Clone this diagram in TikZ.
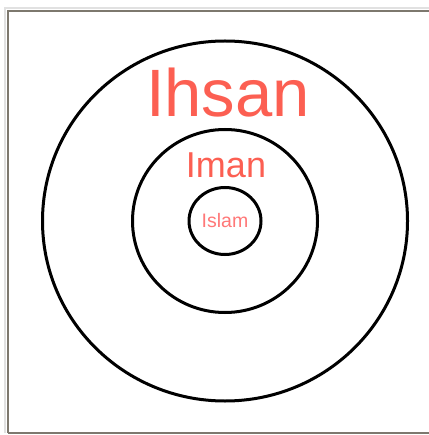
\documentclass[tikz,border=0pt]{standalone}
\usepackage{fontspec}
\setmainfont{Liberation Sans}
\definecolor{framegray}{RGB}{125,120,110}
\definecolor{shadowgray}{RGB}{225,225,225}
\definecolor{salmon}{RGB}{252,95,82}
\definecolor{pinkish}{RGB}{255,120,120}
\begin{document}
\begin{tikzpicture}[x=1pt,y=-1pt,
  ring/.style={draw=black,line width=3pt},
  lbl/.style={inner sep=0pt,anchor=base}]
\useasboundingbox (0,0) rectangle (428,435);
\fill[white] (0,0) rectangle (428,435);
% frame with faint shadow
\draw[shadowgray,line width=2pt] (5,433) -- (5,8) -- (430,8);
\draw[framegray,line width=1.6pt] (8,433) -- (8,11) -- (430,11);
\draw[framegray,line width=1.6pt] (8,433) -- (430,433);
% rings
\coordinate (c) at (225,221);
\draw[ring] (c) ellipse [x radius=182.5, y radius=180];
\draw[ring] (c) ellipse [x radius=92.5, y radius=91.5];
\draw[ring] (c) ellipse [x radius=36, y radius=33.5];
% labels
\node[lbl,text=salmon,font=\fontsize{67}{67}\selectfont] (ihsan) at (228,117) {Ihsan};
\node[lbl,text=salmon,font=\fontsize{36}{36}\selectfont] (iman) at (226,178) {Iman};
\node[lbl,text=pinkish,font=\fontsize{19.5}{19.5}\selectfont] (islam) at (225,227) {Islam};
\end{tikzpicture}
\end{document}
